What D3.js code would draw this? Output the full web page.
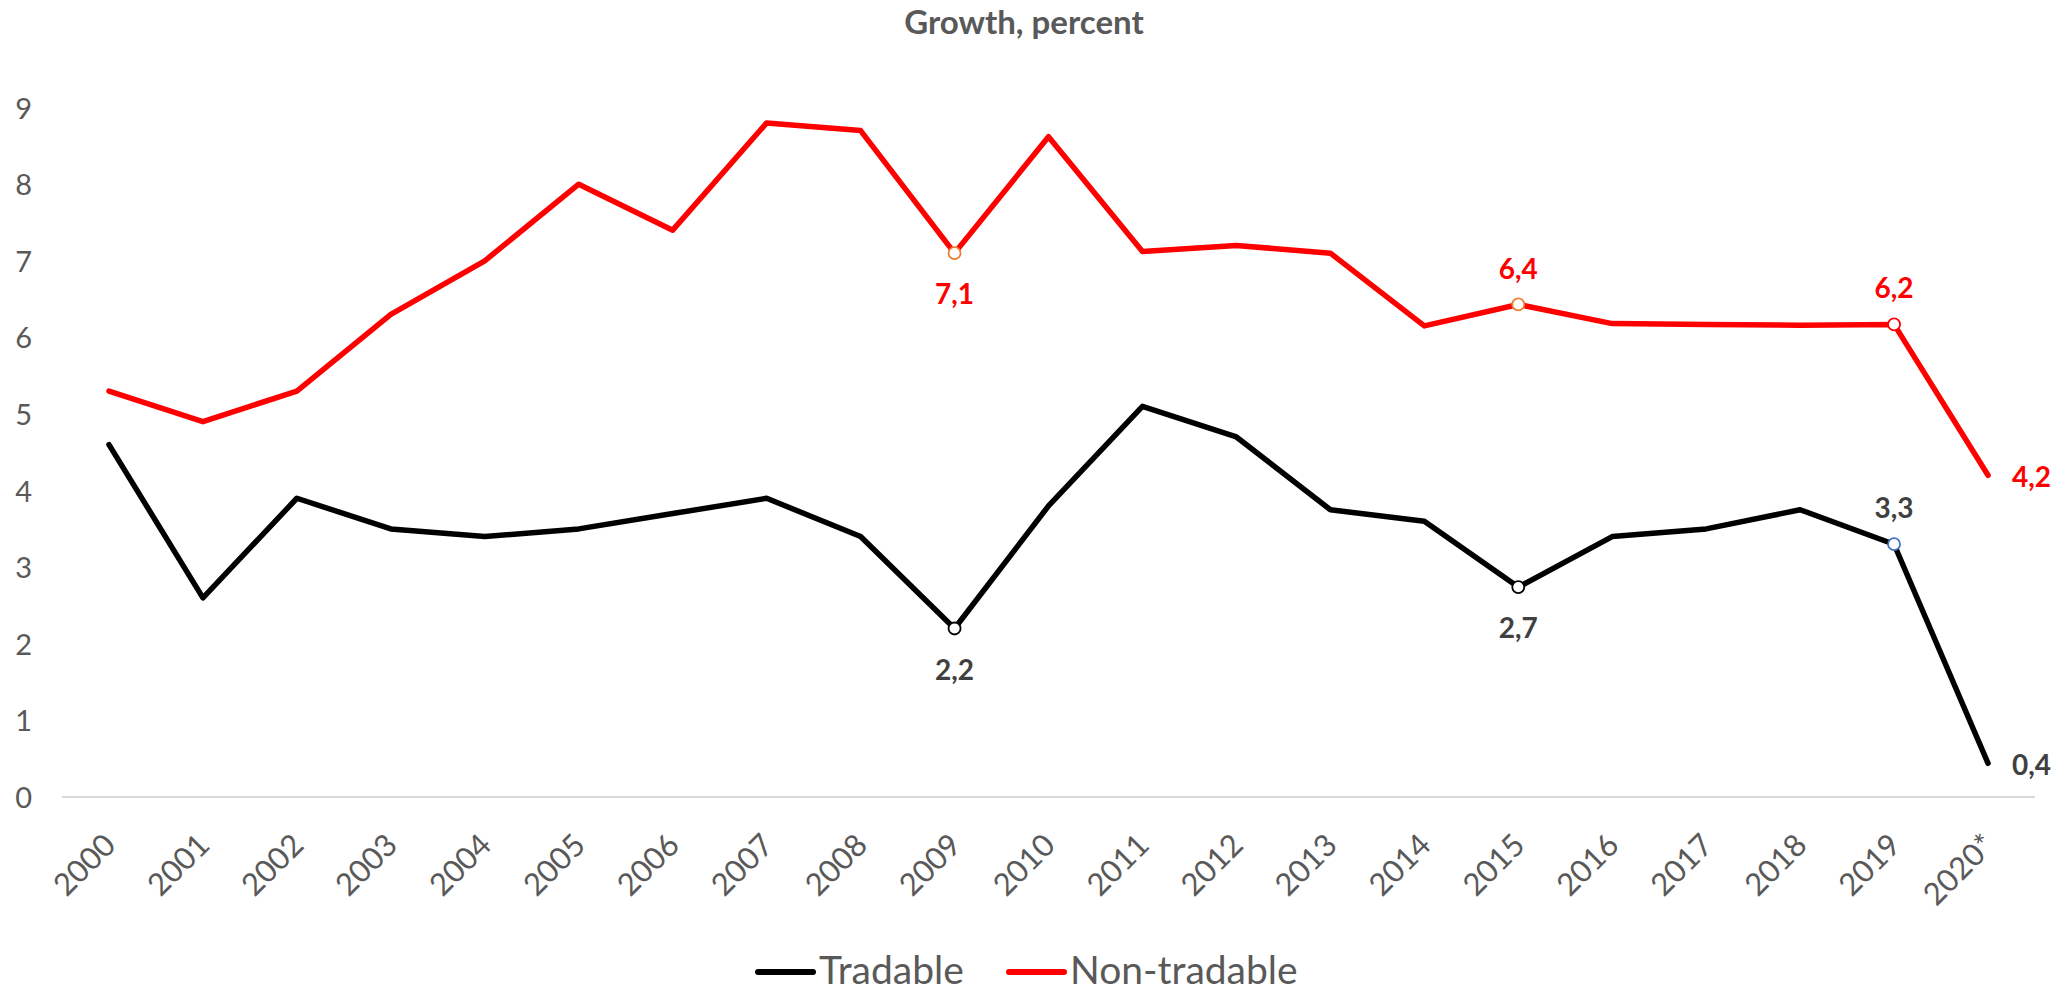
<!DOCTYPE html>
<html>
<head>
<meta charset="utf-8">
<script src="https://cdn.jsdelivr.net/npm/d3@7"></script>
<style>
  body { margin: 0; background: #fff; }
  svg text { font-family: Lato, "Liberation Sans", sans-serif; }
</style>
</head>
<body>
<div id="chart"></div>
<script>
var years       = ["2000","2001","2002","2003","2004","2005","2006","2007","2008","2009","2010",
                   "2011","2012","2013","2014","2015","2016","2017","2018","2019","2020*"];
var tradable    = [4.6, 2.6, 3.9, 3.5, 3.4, 3.5, 3.7, 3.9, 3.4, 2.2, 3.8,
                   5.1, 4.7, 3.75, 3.6, 2.74, 3.4, 3.5, 3.75, 3.3, 0.44];
var nontradable = [5.3, 4.9, 5.3, 6.3, 7.0, 8.0, 7.4, 8.8, 8.7, 7.1, 8.62,
                   7.12, 7.2, 7.1, 6.15, 6.43, 6.18, 6.17, 6.16, 6.17, 4.2];
var y_ticks     = [0, 1, 2, 3, 4, 5, 6, 7, 8, 9];
var series_names = ["Tradable", "Non-tradable"];

// points that carry a marker and a value label
var marks_tradable    = [
  {i: 9,  pos: "below", stroke: "#000000"},
  {i: 15, pos: "below", stroke: "#000000"},
  {i: 19, pos: "above", stroke: "#4472C4"},
  {i: 20, pos: "right", stroke: null}
];
var marks_nontradable = [
  {i: 9,  pos: "below", stroke: "#ED7D31"},
  {i: 15, pos: "above", stroke: "#ED7D31"},
  {i: 19, pos: "above", stroke: "#FF0000"},
  {i: 20, pos: "right", stroke: null}
];

var width_chart  = 2067;
var height_chart = 991;
var text_gray    = "#595959";

var svg_chart = d3.select("#chart").append("svg")
  .attr("width", width_chart)
  .attr("height", height_chart);

var x_chart = d3.scalePoint()
  .domain(years)
  .range([62, 2035])
  .padding(0.5);
var y_chart = d3.scaleLinear()
  .domain([0, 9])
  .range([797, 107.6]);

// title
svg_chart.append("text")
  .attr("x", 1024)
  .attr("y", 34)
  .attr("text-anchor", "middle")
  .style("font-size", "33px")
  .style("font-weight", "bold")
  .style("fill", text_gray)
  .text("Growth, percent");

// zero line
svg_chart.append("line")
  .attr("x1", 62).attr("x2", 2035)
  .attr("y1", y_chart(0)).attr("y2", y_chart(0))
  .style("stroke", "#d9d9d9")
  .style("stroke-width", 2);

// y axis labels
var axis_y = svg_chart.append("g")
  .attr("transform", "translate(32,0)")
  .call(d3.axisLeft(y_chart).tickValues(y_ticks).tickSize(0).tickPadding(0));
axis_y.select(".domain").remove();
axis_y.selectAll("text")
  .style("font-size", "29px")
  .style("fill", text_gray)
  .attr("dy", "0.36em");

// x axis labels, rotated
var axis_x = svg_chart.append("g")
  .attr("transform", "translate(0," + y_chart(0) + ")")
  .call(d3.axisBottom(x_chart).tickSize(0));
axis_x.select(".domain").remove();
axis_x.selectAll("text")
  .style("font-size", "31px")
  .style("fill", text_gray)
  .attr("text-anchor", "end")
  .attr("dy", null)
  .attr("y", 0)
  .attr("transform", "translate(8,50) rotate(-45)");

var line_chart = d3.line()
  .x(function (d, i) { return x_chart(years[i]); })
  .y(function (d) { return y_chart(d); });

svg_chart.append("path")
  .datum(tradable)
  .attr("d", line_chart)
  .style("fill", "none")
  .style("stroke", "#000000")
  .style("stroke-width", 5.5)
  .style("stroke-linejoin", "round")
  .style("stroke-linecap", "round");

svg_chart.append("path")
  .datum(nontradable)
  .attr("d", line_chart)
  .style("fill", "none")
  .style("stroke", "#FF0000")
  .style("stroke-width", 5.5)
  .style("stroke-linejoin", "round")
  .style("stroke-linecap", "round");

function draw_marks (values, marks, label_color) {
  var g = svg_chart.append("g");
  g.selectAll("circle")
    .data(marks.filter(function (m) { return m.stroke; }))
    .enter().append("circle")
    .attr("cx", function (m) { return x_chart(years[m.i]); })
    .attr("cy", function (m) { return y_chart(values[m.i]); })
    .attr("r", 6)
    .style("fill", "#ffffff")
    .style("stroke", function (m) { return m.stroke; })
    .style("stroke-width", 1.8);
  g.selectAll("text")
    .data(marks)
    .enter().append("text")
    .attr("x", function (m) {
      var x = x_chart(years[m.i]);
      return m.pos == "right" ? x + 24 : x;
    })
    .attr("y", function (m) {
      var y = y_chart(values[m.i]);
      if (m.pos == "above") return y - 36;
      if (m.pos == "below") return y + 41;
      return y + 2;
    })
    .attr("dy", "0.36em")
    .attr("text-anchor", function (m) { return m.pos == "right" ? "start" : "middle"; })
    .style("font-size", "28px")
    .style("font-weight", "bold")
    .style("fill", label_color)
    .text(function (m) { return d3.format(".1f")(values[m.i]).replace(".", ","); });
}
draw_marks(tradable, marks_tradable, "#404040");
draw_marks(nontradable, marks_nontradable, "#FF0000");

// legend
var legend_items = [
  {name: series_names[0], color: "#000000", x: 758},
  {name: series_names[1], color: "#FF0000", x: 1009}
];
var legend = svg_chart.append("g").selectAll("g")
  .data(legend_items)
  .enter().append("g")
  .attr("transform", function (d) { return "translate(" + d.x + ",972)"; });
legend.append("line")
  .attr("x1", 0).attr("x2", 55)
  .style("stroke", function (d) { return d.color; })
  .style("stroke-width", 6)
  .style("stroke-linecap", "round");
legend.append("text")
  .attr("x", 61)
  .attr("y", 12)
  .style("font-size", "39px")
  .style("fill", text_gray)
  .text(function (d) { return d.name; });
</script>
</body>
</html>
